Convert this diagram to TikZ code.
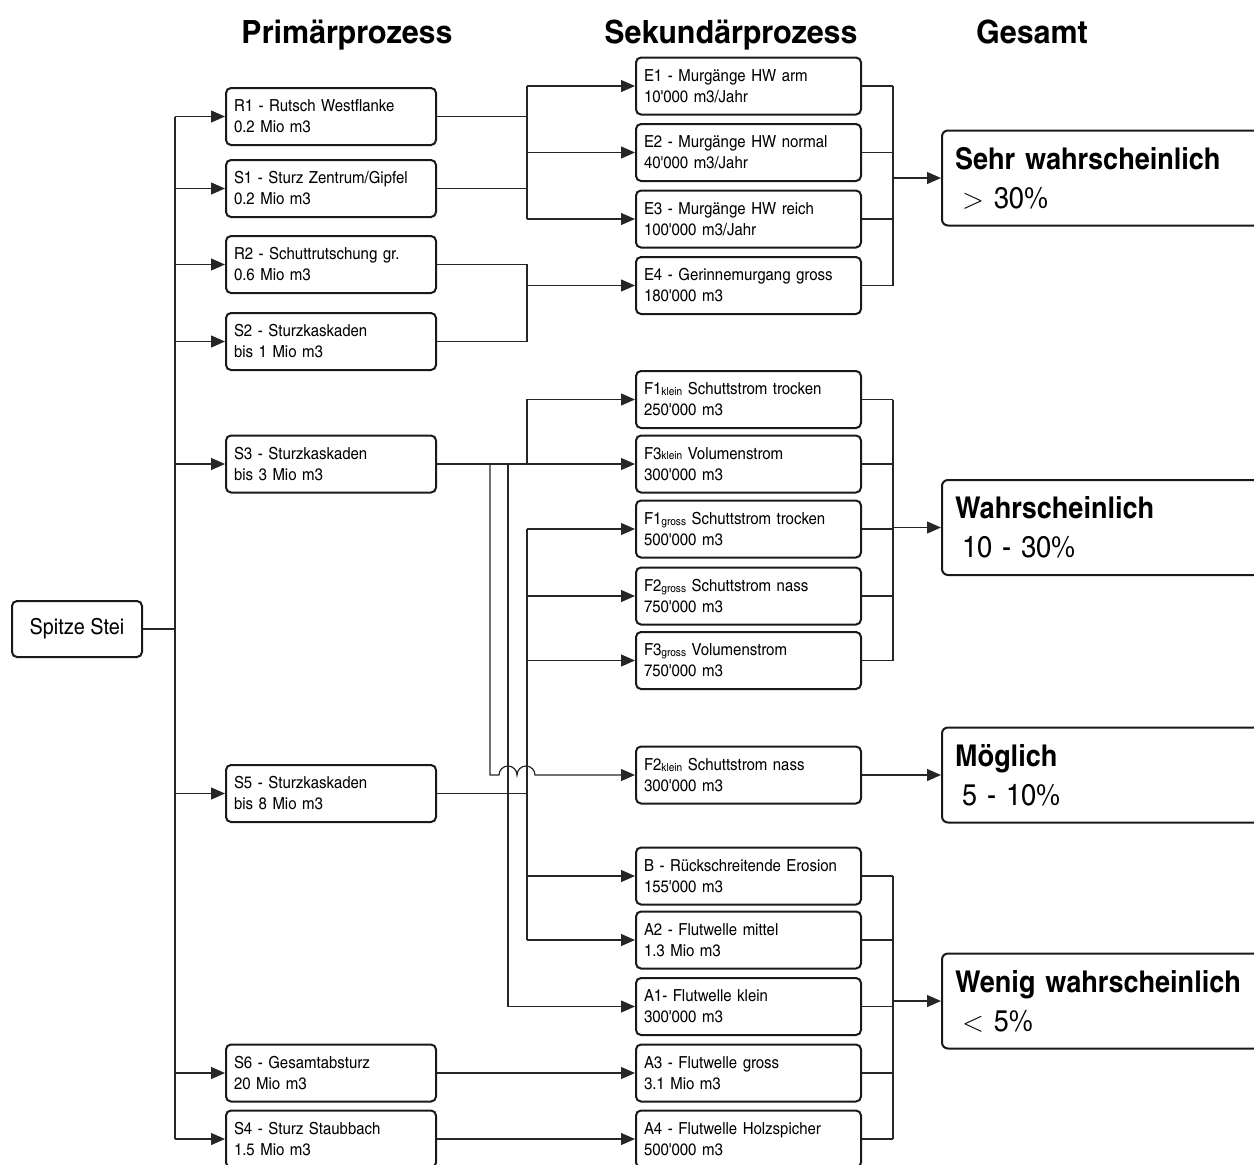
\documentclass[tikz,border=0pt]{standalone}
\usepackage{fontspec}
\setmainfont{texgyreheroscn}[Extension=.otf,UprightFont=*-regular,BoldFont=*-bold,ItalicFont=*-italic,BoldItalicFont=*-bolditalic,FakeStretch=1.1]
\newfontfamily\headfont{texgyreheroscn}[Extension=.otf,UprightFont=*-bold,FakeStretch=1.16]
\usetikzlibrary{arrows.meta}
\newcommand{\sm}[1]{\raisebox{-0.3pt}{\fontsize{5.6}{6}\selectfont #1}}
\newcommand{\q}{\textquotesingle}
\begin{document}
\begin{tikzpicture}[x=0.5pt,y=-0.5pt,
  conn/.style={line width=0.6pt, draw=black!85},
  arr/.style={conn, -{Triangle[length=7pt,width=6pt]}},
  box/.style={draw=black!90, line width=1pt, rounded corners=2.5pt, fill=white, align=left,
    inner xsep=4pt, inner ysep=0pt, anchor=west, font=\fontsize{8.3}{10.5}\selectfont},
  pbox/.style={box, text width=97pt, minimum height=28.5pt},
  sbox/.style={box, text width=104.5pt, minimum height=28.5pt},
  rbox/.style={draw=black!90, line width=1pt, rounded corners=3pt, fill=white, align=left,
    inner xsep=6.5pt, inner ysep=0pt, anchor=west, text width=160pt, minimum height=47.5pt,
    font=\fontsize{15}{19.5}\selectfont},
  head/.style={anchor=base, font=\fontsize{16}{18}\headfont}
]
\useasboundingbox (0,0) rectangle (1254,1164);
\clip (0,0) rectangle (1254,1164);

% headers
\node[head] (h1) at (347,43) {Primärprozess};
\node[head] (h2) at (731,43) {Sekundärprozess};
\node[head] (h3) at (1032,43) {Gesamt};

% root
\node[draw=black!90, line width=1pt, rounded corners=2.5pt, minimum width=65pt, minimum height=28pt,
  inner sep=0pt, font=\fontsize{11}{13}\selectfont] (root) at (77,629) {Spitze Stei};

% primary
\node[pbox] (R1) at (225,116.5) {R1 - Rutsch Westflanke\\0.2 Mio m3};
\node[pbox] (S1) at (225,188.5) {S1 - Sturz Zentrum/Gipfel\\0.2 Mio m3};
\node[pbox] (R2) at (225,264.5) {R2 - Schuttrutschung gr.\\0.6 Mio m3};
\node[pbox] (S2) at (225,341.5) {S2 - Sturzkaskaden\\bis 1 Mio m3};
\node[pbox] (S3) at (225,464) {S3 - Sturzkaskaden\\bis 3 Mio m3};
\node[pbox] (S5) at (225,793.5) {S5 - Sturzkaskaden\\bis 8 Mio m3};
\node[pbox] (S6) at (225,1073) {S6 - Gesamtabsturz\\20 Mio m3};
\node[pbox] (S4) at (225,1139) {S4 - Sturz Staubbach\\1.5 Mio m3};

% secondary
\node[sbox] (E1) at (635,86) {E1 - Murgänge HW arm\\10\q000 m3/Jahr};
\node[sbox] (E2) at (635,152.5) {E2 - Murgänge HW normal\\40\q000 m3/Jahr};
\node[sbox] (E3) at (635,219) {E3 - Murgänge HW reich\\100\q000 m3/Jahr};
\node[sbox] (E4) at (635,285.5) {E4 - Gerinnemurgang gross\\180\q000 m3};
\node[sbox] (F1k) at (635,399.5) {F1\sm{klein} Schuttstrom trocken\\250\q000 m3};
\node[sbox] (F3k) at (635,464) {F3\sm{klein} Volumenstrom\\300\q000 m3};
\node[sbox] (F1g) at (635,529) {F1\sm{gross} Schuttstrom trocken\\500\q000 m3};
\node[sbox] (F2g) at (635,596) {F2\sm{gross} Schuttstrom nass\\750\q000 m3};
\node[sbox] (F3g) at (635,660.5) {F3\sm{gross} Volumenstrom\\750\q000 m3};
\node[sbox] (F2k) at (635,775) {F2\sm{klein} Schuttstrom nass\\300\q000 m3};
\node[sbox] (B) at (635,876) {B - Rückschreitende Erosion\\155\q000 m3};
\node[sbox] (A2) at (635,940) {A2 - Flutwelle mittel\\1.3 Mio m3};
\node[sbox] (A1) at (635,1006.5) {A1- Flutwelle klein\\300\q000 m3};
\node[sbox] (A3) at (635,1073) {A3 - Flutwelle gross\\3.1 Mio m3};
\node[sbox] (A4) at (635,1139) {A4 - Flutwelle Holzspicher\\500\q000 m3};

% results
\node[rbox] (Sehr) at (941,178) {\textbf{Sehr wahrscheinlich}\\\hspace*{3.5pt}$>$ 30\%};
\node[rbox] (Wahr) at (941,527.5) {\textbf{Wahrscheinlich}\\\hspace*{3.5pt}10 - 30\%};
\node[rbox] (Mog) at (941,775) {\textbf{Möglich}\\\hspace*{3.5pt}5 - 10\%};
\node[rbox] (Wenig) at (941,1001) {\textbf{Wenig wahrscheinlich}\\\hspace*{3.5pt}$<$ 5\%};

% bus coordinates
\coordinate (L) at (175,0);
\coordinate (M) at (527,0);
\coordinate (Va) at (490,0);
\coordinate (Vb) at (508,0);
\coordinate (Rb) at (893,0);

% root to primaries
\draw[conn] (root.east) -- (L |- root.east);
\draw[conn] (L |- R1.west) -- (L |- S4.west);
\foreach \n in {R1,S1,R2,S2,S3,S5,S6,S4}
  \draw[arr] (L |- \n.west) -- (\n.west);

% R1,S1 -> E1..E3
\draw[conn] (R1.east) -- (M |- R1.east);
\draw[conn] (S1.east) -- (M |- S1.east);
\draw[conn] (M |- E1.west) -- (M |- E3.west);
\foreach \n in {E1,E2,E3}
  \draw[arr] (M |- \n.west) -- (\n.west);

% R2,S2 -> E4
\draw[conn] (R2.east) -- (M |- R2.east) -- (M |- S2.east) -- (S2.east);
\draw[arr] (M |- E4.west) -- (E4.west);

% S3
\draw[arr] (S3.east) -- (F3k.west);
\draw[arr] (M |- S3.east) -- (M |- F1k.west) -- (F1k.west);
\draw[arr] (Va |- S3.east) -- (Va |- F2k.west) -- ++(9,0)
  arc[start angle=180,end angle=0,radius=4.5pt]
  arc[start angle=180,end angle=0,radius=4.5pt] -- (F2k.west);
\draw[arr] (Vb |- S3.east) -- (Vb |- A1.west) -- (A1.west);

% S5
\draw[conn] (S5.east) -- (M |- S5.east);
\draw[conn] (M |- F1g.west) -- (M |- A2.west);
\foreach \n in {F1g,F2g,F3g,B,A2}
  \draw[arr] (M |- \n.west) -- (\n.west);

% S6, S4
\draw[arr] (S6.east) -- (A3.west);
\draw[arr] (S4.east) -- (A4.west);

% right buses
\foreach \n in {E1,E2,E3,E4}
  \draw[conn] (\n.east) -- (Rb |- \n.east);
\draw[conn] (Rb |- E1.east) -- (Rb |- E4.east);
\draw[arr] (Rb |- Sehr.west) -- (Sehr.west);

\foreach \n in {F1k,F3k,F1g,F2g,F3g}
  \draw[conn] (\n.east) -- (Rb |- \n.east);
\draw[conn] (Rb |- F1k.east) -- (Rb |- F3g.east);
\draw[arr] (Rb |- Wahr.west) -- (Wahr.west);

\draw[arr] (F2k.east) -- (Mog.west);

\foreach \n in {B,A2,A1,A3,A4}
  \draw[conn] (\n.east) -- (Rb |- \n.east);
\draw[conn] (Rb |- B.east) -- (Rb |- A4.east);
\draw[arr] (Rb |- Wenig.west) -- (Wenig.west);
\end{tikzpicture}
\end{document}
